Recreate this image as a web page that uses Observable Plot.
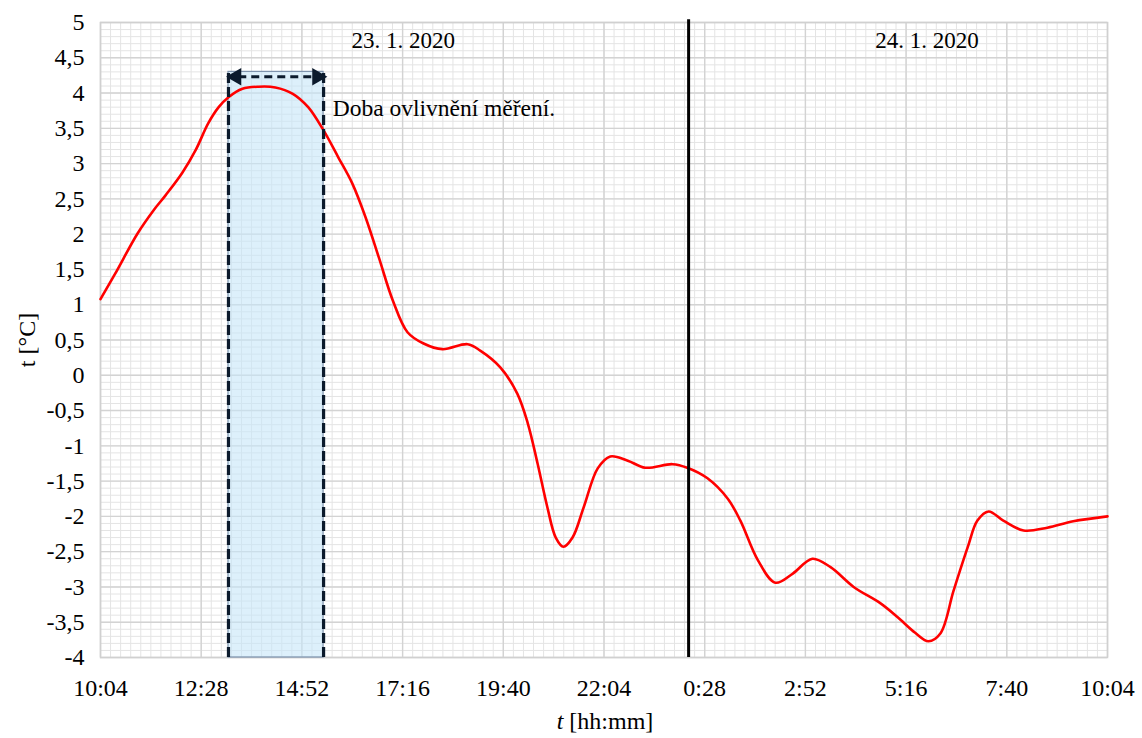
<!DOCTYPE html>
<html><head><meta charset="utf-8">
<script src="https://cdn.jsdelivr.net/npm/d3@7"></script>
<script src="https://cdn.jsdelivr.net/npm/@observablehq/plot@0.6"></script>
<style>body{margin:0;background:#fff}</style>
</head><body><div id="chart"></div>
<script>
// minutes after 10:04 on 23. 1. 2020
const minutes = [0,21,53,76,93,117,136,154,169,183,203,226,250,275,297,319,340,360,379,398,418,439,462,489,525,543,572,596,611,625,639,651,662,675,691,711,729,754,779,818,839,868,897,915,940,965,990,1018,1044,1077,1115,1140,1165,1184,1201,1220,1240,1254,1270,1291,1320,1354,1391,1440];
const temps = [1.08,1.44,2.01,2.34,2.55,2.87,3.19,3.57,3.80,3.94,4.06,4.09,4.08,3.99,3.80,3.47,3.09,2.72,2.24,1.67,1.06,0.61,0.45,0.37,0.44,0.35,0.11,-0.26,-0.68,-1.25,-1.87,-2.30,-2.43,-2.30,-1.87,-1.32,-1.15,-1.21,-1.31,-1.26,-1.31,-1.46,-1.75,-2.06,-2.62,-2.94,-2.81,-2.60,-2.72,-3.00,-3.23,-3.43,-3.65,-3.77,-3.66,-3.05,-2.44,-2.06,-1.93,-2.06,-2.20,-2.16,-2.07,-2.00];
const xTickLabels = ["10:04","12:28","14:52","17:16","19:40","22:04","0:28","2:52","5:16","7:40","10:04"];
const yTickLabels = ["-4","-3,5","-3","-2,5","-2","-1,5","-1","-0,5","0","0,5","1","1,5","2","2,5","3","3,5","4","4,5","5"];
const dateLabels = ["23. 1. 2020","24. 1. 2020"];
const dateMinutes = [433,1182];
const annotationText = "Doba ovlivnění měření.";
const bandStart = 183, bandEnd = 319, bandTop = 4.3;
const midnightMinute = 841;

const data = minutes.map((m,i)=>({m, t: temps[i]}));
const xTicks = xTickLabels.map((_,i)=>i*144);
const yTicks = yTickLabels.map(s=>+s.replace(",", "."));
const minorX = d3.range(0,101).map(i=>i*14.4);
const minorY = d3.range(-40,51).map(i=>i/10);

const font = "'Liberation Serif', 'DejaVu Serif', serif";
const ink = "#0b1a2c";

const svg = Plot.plot({
  width: 1142, height: 738,
  marginLeft: 100, marginRight: 35, marginTop: 22, marginBottom: 81,
  style: {fontFamily: font, fontSize: "24px", color: "#000", background: "#fff"},
  x: {domain: [0,1440]},
  y: {domain: [-4,5]},
  marks: [
    Plot.ruleX(minorX, {stroke: "#e4e4e4", strokeWidth: 1}),
    Plot.ruleY(minorY, {stroke: "#e4e4e4", strokeWidth: 1}),
    Plot.ruleX(xTicks, {stroke: "#d3d3d3", strokeWidth: 1.4}),
    Plot.ruleY(yTicks, {stroke: "#d3d3d3", strokeWidth: 1.4}),
    Plot.frame({stroke: "#d0d0d0", strokeWidth: 1.5}),
    Plot.rect([0], {x1: bandStart, x2: bandEnd, y1: -4, y2: bandTop, fill: "#c6e6f9", fillOpacity: 0.6, stroke: "#7d93ad", strokeWidth: 1.2}),
    Plot.line(data, {x: "m", y: "t", stroke: "#ff0000", strokeWidth: 2.6, curve: "catmull-rom"}),
    Plot.ruleX([bandStart, bandEnd], {y1: -4, y2: bandTop, stroke: ink, strokeWidth: 3.2, strokeDasharray: "10,4"}),
    Plot.link([0], {x1: 197, x2: 306, y1: 4.23, y2: 4.23, stroke: ink, strokeWidth: 3, strokeDasharray: "8,5"}),
    Plot.dot([{x: 194, r: -90}, {x: 310, r: 90}], {x: "x", y: () => 4.23, rotate: "r", symbol: "triangle", r: 6.5, fill: ink, stroke: "none"}),
    Plot.ruleX([midnightMinute], {y1: -4, y2: 5.04, stroke: "#000", strokeWidth: 3}),
    Plot.text(dateLabels, {x: (d,i)=>dateMinutes[i], y: () => 4.75, text: d=>d, fontSize: 23, fill: "#000"}),
    Plot.text([annotationText], {x: () => 332, y: () => 3.78, text: d=>d, textAnchor: "start", fontSize: 23.5, fill: "#000"}),
    Plot.axisX({ticks: xTicks, tickSize: 0, tickPadding: 21, tickFormat: (d,i)=>xTickLabels[i], label: null, fontSize: 24}),
    Plot.axisY({ticks: yTicks, tickSize: 0, tickPadding: 16, tickFormat: (d,i)=>yTickLabels[i], label: null, fontSize: 24})
  ]
});

const s = d3.select(svg);
s.append("text").attr("transform", "translate(27,340) rotate(-90)")
  .attr("text-anchor", "middle").attr("dominant-baseline", "central")
  .attr("font-family", font).attr("font-size", 24).attr("fill", "#000").text("t [°C]");
const xl = s.append("text").attr("x", 605).attr("y", 729)
  .attr("text-anchor", "middle").attr("font-family", font).attr("font-size", 24).attr("fill", "#000");
xl.append("tspan").attr("font-style", "italic").text("t");
xl.append("tspan").text(" [hh:mm]");

document.getElementById("chart").appendChild(svg);
</script>
</body></html>
